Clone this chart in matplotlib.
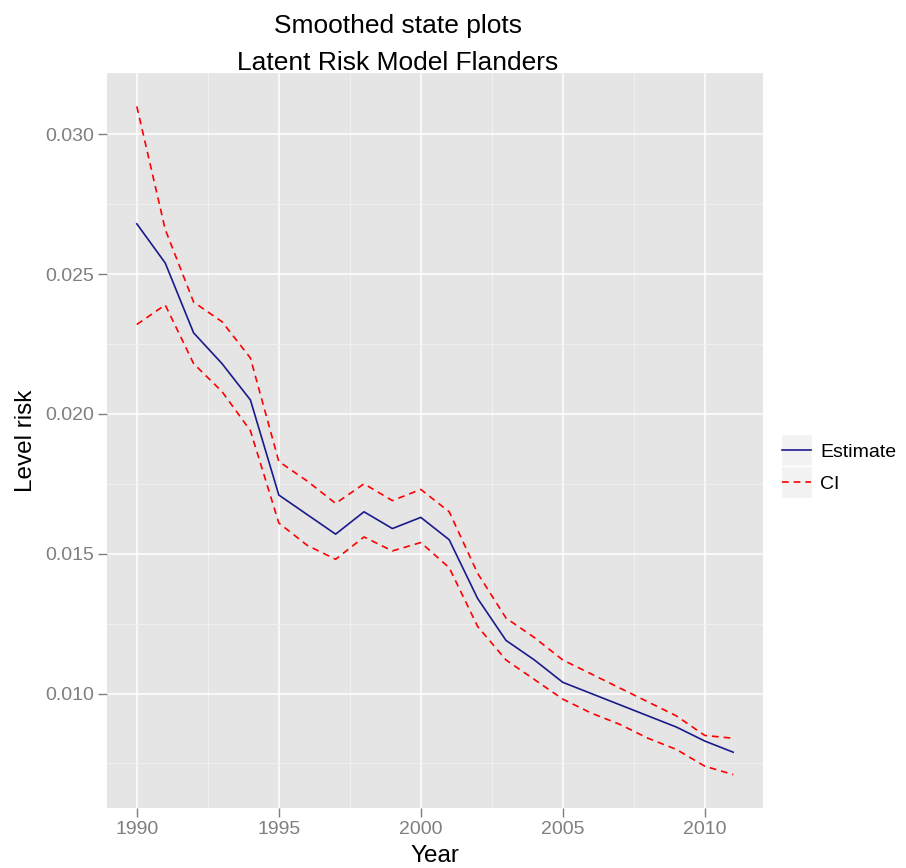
import numpy as np
import matplotlib
matplotlib.use("Agg")
import matplotlib.pyplot as plt
from matplotlib.patches import Rectangle

plt.rcParams['font.family'] = ['Liberation Sans', 'DejaVu Sans']

years = list(range(1990, 2012))
estimate = [0.0268, 0.0254, 0.0229, 0.0218, 0.0205, 0.0171, 0.0164, 0.0157,
            0.0165, 0.0159, 0.0163, 0.0155, 0.0134, 0.0119, 0.0112, 0.0104,
            0.0100, 0.0096, 0.0092, 0.0088, 0.0083, 0.0079]
ci_upper = [0.0310, 0.0266, 0.0240, 0.0233, 0.0220, 0.0183, 0.0176, 0.0168,
            0.0175, 0.0169, 0.0173, 0.0165, 0.0143, 0.0127, 0.0120, 0.0112,
            0.0107, 0.0102, 0.0097, 0.0092, 0.0085, 0.0084]
ci_lower = [0.0232, 0.0239, 0.0218, 0.0208, 0.0194, 0.0161, 0.0153, 0.0148,
            0.0156, 0.0151, 0.0154, 0.0145, 0.0124, 0.0112, 0.0105, 0.0098,
            0.0093, 0.0089, 0.0084, 0.0080, 0.0074, 0.0071]
x_ticks = [1990, 1995, 2000, 2005, 2010]
y_ticks = [0.010, 0.015, 0.020, 0.025, 0.030]

W, H = 906, 868
fig = plt.figure(figsize=(W / 100, H / 100), dpi=100)
ax = fig.add_axes([107 / W, 60 / H, 656 / W, 735 / H])
ax.set_facecolor('#e5e5e5')

# ggplot-like expand of 5%
x_span = years[-1] - years[0]
ax.set_xlim(years[0] - 0.05 * x_span, years[-1] + 0.05 * x_span)
lo, hi = min(ci_lower), max(ci_upper)
ax.set_ylim(lo - 0.05 * (hi - lo), hi + 0.05 * (hi - lo))

ax.set_xticks(x_ticks)
ax.set_yticks(y_ticks)
ax.set_xticks([1992.5, 1997.5, 2002.5, 2007.5], minor=True)
ax.set_yticks([0.0075, 0.0125, 0.0175, 0.0225, 0.0275], minor=True)
ax.grid(which='major', color='white', linewidth=1.1)
ax.grid(which='minor', color='#f2f2f2', linewidth=0.6)
ax.set_axisbelow(True)
for s in ax.spines.values():
    s.set_visible(False)
ax.tick_params(which='major', color='#7f7f7f', length=6.5, width=1, pad=3,
               labelcolor='#7f7f7f', labelsize=14)
ax.tick_params(which='minor', length=0)
ax.set_yticklabels([f'{v:.3f}' for v in y_ticks])

l_est, = ax.plot(years, estimate, color='#1a1a8c', linewidth=1.2, label='Estimate')
l_up, = ax.plot(years, ci_upper, color='red', linewidth=1.2, linestyle=(0, (4, 3)), label='CI')
ax.plot(years, ci_lower, color='red', linewidth=1.2, linestyle=(0, (4, 3)))

ax.set_xlabel('Year', fontsize=17.5, labelpad=5)
ax.set_ylabel('Level risk', fontsize=17.5, labelpad=6)

# title centred over the plot region (without legend), like old ggplot2
fig.text(398 / W, 1 - 33 / H, 'Smoothed state plots', fontsize=19,
         ha='center', va='baseline')
fig.text(398 / W, 1 - 70 / H, 'Latent Risk Model Flanders', fontsize=19,
         ha='center', va='baseline')

leg = fig.legend(handles=[l_est, l_up], loc='center left',
                 bbox_to_anchor=(764 / W, 1 - 468 / H), frameon=False,
                 fontsize=14, handlelength=1.5, handletextpad=0.5,
                 labelspacing=0.75)

fig.canvas.draw()
for h in leg.legend_handles:
    bb = h.get_window_extent()
    cx, cy = (bb.x0 + bb.x1) / 2, (bb.y0 + bb.y1) / 2
    w, hgt = 31, 32
    fig.patches.append(Rectangle(((cx - w / 2) / W, (cy - hgt / 2) / H),
                                 w / W, hgt / H, transform=fig.transFigure,
                                 facecolor='#f2f2f2', edgecolor='white',
                                 linewidth=1, zorder=-1))

fig.savefig('out.png', dpi=100)
